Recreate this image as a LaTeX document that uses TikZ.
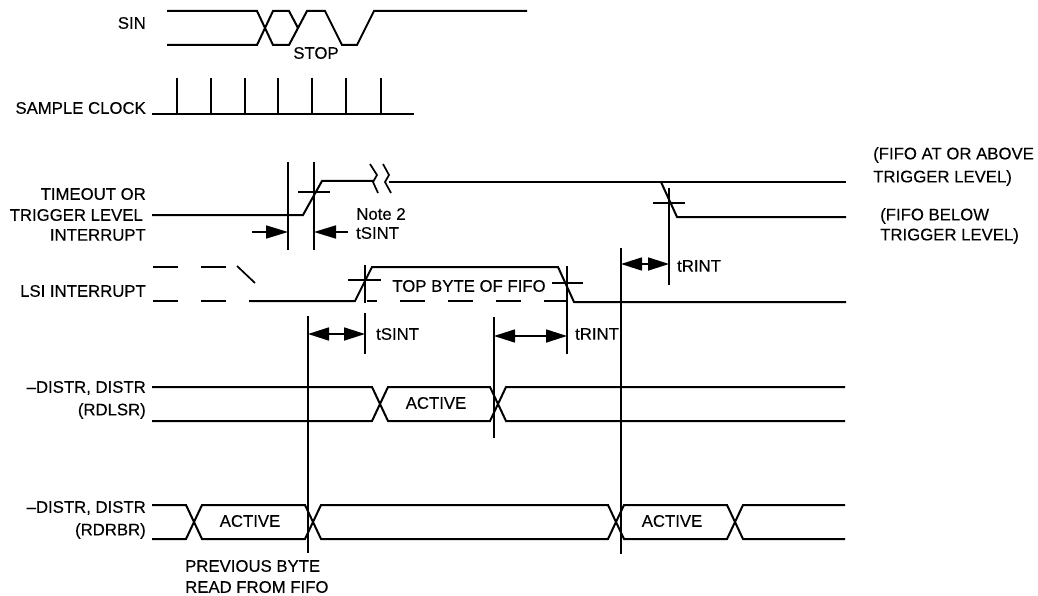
\documentclass[tikz,border=0pt]{standalone}
\usepackage{fontspec}
\setmainfont[FakeBold=0.25]{Liberation Sans}
\usepackage{tikz}
\usetikzlibrary{positioning, arrows.meta}

\begin{document}
\begin{tikzpicture}[
  x=1pt, y=-1pt,
  every node/.style={font=\fontsize{16.75}{18}\selectfont, inner sep=0pt},
  lbl/.style={anchor=east},
  sig/.style={line width=2pt, line join=miter},
  mark line/.style={line width=1.7pt},
  dashsig/.style={sig, dash pattern=on 25pt off 23pt},
  arr/.style={line width=1.7pt, -{Triangle[length=22pt, width=13pt]}},
  darr/.style={line width=1.7pt, {Triangle[length=21pt, width=13pt]}-{Triangle[length=21pt, width=13pt]}}
]
  \useasboundingbox (0,0) rectangle (1038,596);

  % labels
  \node[lbl] (sin) at (146,23) {SIN};
  \node[lbl] (clk) at (146,108) {SAMPLE CLOCK};
  \node[lbl] (tmo) at (146,194) {TIMEOUT OR};
  \node[below=21pt of tmo.east, anchor=east, xshift=-3pt] (trg) {TRIGGER LEVEL};
  \node[below=20pt of trg.east, anchor=east, xshift=3pt] (int) {INTERRUPT};
  \node[lbl] (lsi) at (146,291) {LSI INTERRUPT};
  \node[lbl] (rd1) at (146,388) {--DISTR, DISTR};
  \node[below=23pt of rd1.east, anchor=east] (rdlsr) {(RDLSR)};
  \node[lbl] (rd2) at (146,508) {--DISTR, DISTR};
  \node[below=23pt of rd2.east, anchor=east] (rdrbr) {(RDRBR)};

  \node (stop) at (316,53) {STOP};
  \node (note) at (381,214) {Note 2};
  \node (top)  at (469,286) {TOP BYTE OF FIFO};
  \node (act1) at (436,403) {ACTIVE};
  \node (act2) at (250,521) {ACTIVE};
  \node (act3) at (672,521) {ACTIVE};
  \node[anchor=west] (ts1) at (356,233) {tSINT};
  \node[anchor=west] (ts2) at (376,334) {tSINT};
  \node[anchor=west] (tr1) at (575,334) {tRINT};
  \node[anchor=west] (tr2) at (677,266) {tRINT};

  \node[anchor=west] (abv1) at (873,155) {(FIFO AT OR ABOVE};
  \node[below=23pt of abv1.west, anchor=west] (abv2) {TRIGGER LEVEL)};
  \node[anchor=west] (blw1) at (880,216) {(FIFO BELOW};
  \node[below=20pt of blw1.west, anchor=west] (blw2) {TRIGGER LEVEL)};
  \node[anchor=west] (prv1) at (185,566) {PREVIOUS BYTE};
  \node[below=21pt of prv1.west, anchor=west] (prv2) {READ FROM FIFO};

  % SIN
  \draw[sig] (167,11) -- (257,11) -- (273,45) -- (289,45) -- (298,28) -- (307,11)
    -- (325,11) -- (342,45) -- (357,45) -- (374,11) -- (527,11);
  \draw[sig] (167,45) -- (257,45) -- (273,11) -- (289,11) -- (298,28);

  % sample clock
  \draw[sig] (152,114) -- (414,114);
  \foreach \x in {177,211,245,278,312,346,381}
    \draw[mark line] (\x,78) -- (\x,114);

  % trigger interrupt
  \draw[sig] (152,215) -- (303,215) -- (322,181) -- (373,181);
  \draw[sig] (389,182) -- (846,182);
  \draw[sig] (661,182) -- (677,217) -- (846,217);
  \draw[mark line] (370,164) -- (377,175) -- (373,182) -- (378,193);
  \draw[mark line] (383,164) -- (389,175) -- (385,182) -- (391,193);

  \draw[mark line] (288,162) -- (288,250);
  \draw[mark line] (314,162) -- (314,250);
  \draw[mark line] (298,192) -- (330,192);
  \draw[mark line] (669,188) -- (669,285);
  \draw[mark line] (653,203) -- (685,203);

  \coordinate (a1) at (252,232);
  \coordinate (a2) at (288,232);
  \coordinate (a3) at (348,232);
  \coordinate (a4) at (314,232);
  \draw[arr] (a1) -- (a2);
  \draw[arr] (a3) -- (a4);

  % LSI interrupt
  \draw[dashsig] (153,267) -- (226,267);
  \draw[sig, line width=1.7pt] (237,266) -- (255,283);
  \draw[dashsig] (153,301) -- (226,301);
  \draw[sig] (249,301) -- (355,301) -- (372,267) -- (558,267) -- (574,302) -- (846,302);
  \foreach \xa/\xb in {367/377,400/425,448/473,496/521,544/567}
    \draw[sig] (\xa,301) -- (\xb,301);

  \draw[mark line] (365,265) -- (365,303);
  \draw[mark line] (365,313) -- (365,354);
  \draw[mark line] (348,280) -- (381,280);
  \draw[mark line] (567,266) -- (567,354);
  \draw[mark line] (552,283) -- (583,283);

  % long verticals
  \draw[mark line] (308,316) -- (308,553);
  \draw[mark line] (494,317) -- (494,438);
  \draw[mark line] (621,248) -- (621,554);

  \coordinate (b1) at (308,334);
  \coordinate (b2) at (365,334);
  \coordinate (c1) at (494,336);
  \coordinate (c2) at (567,336);
  \coordinate (d1) at (621,264);
  \coordinate (d2) at (669,264);
  \draw[darr] (b1) -- (b2);
  \draw[darr] (c1) -- (c2);
  \draw[darr] (d1) -- (d2);

  % RDLSR
  \draw[sig] (152,387) -- (372,387) -- (388,421) -- (490,421) -- (506,387) -- (845,387);
  \draw[sig] (152,421) -- (372,421) -- (388,387) -- (490,387) -- (506,421) -- (845,421);

  % RDRBR
  \draw[sig] (152,505) -- (186,505) -- (202,539) -- (305,539) -- (321,505) -- (608,505)
    -- (624,539) -- (727,539) -- (743,505) -- (845,505);
  \draw[sig] (152,539) -- (186,539) -- (202,505) -- (305,505) -- (321,539) -- (608,539)
    -- (624,505) -- (727,505) -- (743,539) -- (845,539);
\end{tikzpicture}
\end{document}
